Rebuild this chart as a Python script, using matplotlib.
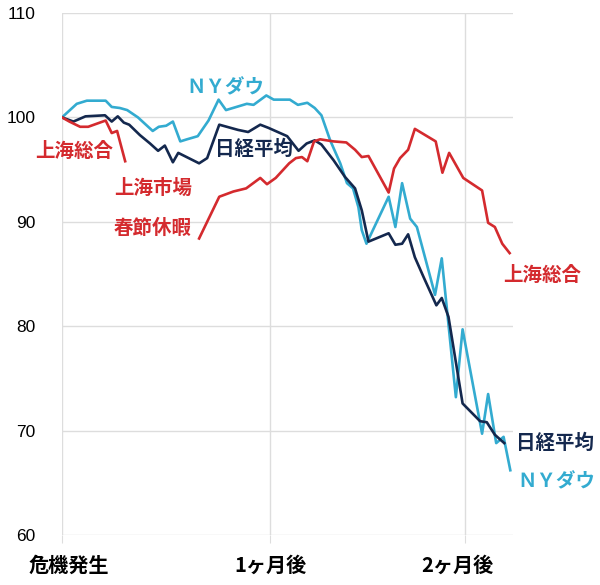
import matplotlib
matplotlib.use("Agg")
import matplotlib.pyplot as plt
import matplotlib.transforms as mtransforms

plt.rcParams['font.family'] = ['Noto Sans CJK JP', 'DejaVu Sans']

# days since the crisis started, and index levels (start = 100)
ny_days = [0, 2.2, 3.7, 6.5, 7.4, 8.6, 9.7, 11.3, 13.5, 14.4, 15.5, 16.5, 17.6, 18.6,
           20.2, 21.8, 23.3, 24.4, 27.5, 28.5, 30.4, 31.5, 33.9, 35.1, 36.5, 37.6,
           38.6, 39.9, 41.4, 42.4, 43.3, 44.1, 44.6, 45.3, 48.6, 49.6, 50.6, 51.8,
           52.8, 55.5, 56.5, 58.6, 59.6, 62.5, 63.4, 64.6, 65.7, 66.7]
ny_vals = [100.0, 101.3, 101.6, 101.6, 101.0, 100.9, 100.7, 100.0, 98.7, 99.1, 99.2,
           99.6, 97.7, 97.9, 98.2, 99.7, 101.7, 100.7, 101.3, 101.2, 102.1, 101.7,
           101.7, 101.2, 101.4, 100.9, 100.2, 97.8, 95.6, 93.7, 93.2, 91.4, 89.2,
           87.9, 92.4, 89.5, 93.7, 90.3, 89.5, 83.0, 86.5, 73.2, 79.7, 69.7, 73.5,
           68.8, 69.4, 66.2]

nk_days = [0, 1.7, 3.5, 6.4, 7.4, 8.3, 9.2, 10.0, 11.6, 13.1, 14.3, 15.3, 16.5, 17.3,
           20.4, 21.6, 23.4, 26.2, 27.7, 29.5, 30.7, 33.5, 35.2, 36.4, 37.6, 38.6,
           40.4, 42.1, 43.6, 44.6, 45.6, 48.6, 49.6, 50.6, 51.5, 52.5, 53.8, 55.7,
           56.5, 57.5, 59.6, 62.2, 63.2, 64.4, 65.8]
nk_vals = [100.0, 99.6, 100.1, 100.2, 99.6, 100.1, 99.5, 99.3, 98.3, 97.5, 96.8, 97.3,
           95.7, 96.6, 95.6, 96.1, 99.3, 98.8, 98.6, 99.3, 99.0, 98.2, 96.8, 97.5,
           97.8, 97.4, 95.9, 94.3, 93.2, 91.1, 88.1, 88.9, 87.8, 87.9, 88.8, 86.6,
           84.7, 82.0, 82.7, 80.9, 72.6, 70.9, 70.8, 69.6, 68.8]

# Shanghai: before and after the Spring Festival holiday
sh1_days = [0, 1.1, 2.7, 3.9, 6.5, 7.4, 8.2, 9.4]
sh1_vals = [100.0, 99.6, 99.1, 99.1, 99.7, 98.5, 98.7, 95.8]
sh2_days = [20.4, 23.4, 25.5, 27.4, 29.5, 30.5, 31.8, 33.8, 34.8, 35.7, 36.5, 37.5,
            38.4, 40.4, 42.3, 43.6, 44.6, 45.6, 48.6, 49.4, 50.3, 51.5, 52.5, 55.6,
            56.6, 57.6, 59.7, 62.5, 63.4, 64.4, 65.5, 66.6]
sh2_vals = [88.4, 92.4, 92.9, 93.2, 94.2, 93.6, 94.2, 95.6, 96.1, 96.2, 95.8, 97.7,
            97.9, 97.7, 97.6, 96.9, 96.2, 96.3, 92.8, 95.1, 96.1, 96.9, 98.9, 97.7,
            94.7, 96.6, 94.2, 93.0, 89.9, 89.5, 87.9, 87.0]

x_ticks = [0, 31, 60]
x_labels = ['危機発生', '1ヶ月後', '2ヶ月後']
y_ticks = [60, 70, 80, 90, 100, 110]

red = '#d42a2e'
navy = '#14284e'
blue = '#33abd0'

fig = plt.figure(figsize=(6, 5.85), dpi=100)
ax = fig.add_axes([0.1033, 0.0855, 0.7517, 0.8923])

ax.plot(ny_days, ny_vals, color=blue, lw=1.9)
ax.plot(nk_days, nk_vals, color=navy, lw=1.9)
ax.plot(sh1_days, sh1_vals, color=red, lw=1.9)
ax.plot(sh2_days, sh2_vals, color=red, lw=1.9)

ax.set_xlim(0, 67.1)
ax.set_ylim(60, 110)
ax.set_xticks(x_ticks)
ax.set_xticklabels(x_labels, fontsize=14.5, fontweight='bold')
ax.set_yticks(y_ticks)
ax.set_yticklabels([str(v) for v in y_ticks], fontsize=12.5, family='Liberation Sans')
ax.tick_params(axis='y', length=0, pad=19)
ax.tick_params(axis='x', length=6, color='#dddddd', pad=8)
ax.grid(True, color='#dddddd', lw=1)
ax.set_axisbelow(True)
for s in ax.spines.values():
    s.set_visible(False)

# nudge the outer x labels like in the original
ticks = ax.xaxis.get_major_ticks()
shift_r = mtransforms.ScaledTranslation(7 / 100, 0, fig.dpi_scale_trans)
shift_l = mtransforms.ScaledTranslation(-8 / 100, 0, fig.dpi_scale_trans)
ticks[0].label1.set_transform(ticks[0].label1.get_transform() + shift_r)
ticks[2].label1.set_transform(ticks[2].label1.get_transform() + shift_l)

kw = dict(fontsize=14, fontweight='bold', ha='center', va='center', clip_on=False)
ax.text(24.3, 102.8, 'ＮＹダウ', color=blue, **kw)
ax.text(1.8, 96.7, '上海総合', color=red, **kw)
ax.text(13.5, 93.2, '上海市場', color=red, **kw)
ax.text(13.5, 89.4, '春節休暇', color=red, **kw)
ax.text(28.6, 96.9, '日経平均', color=navy, **kw)
ax.text(71.4, 84.9, '上海総合', color=red, **kw)
ax.text(73.3, 68.8, '日経平均', color=navy, **kw)
ax.text(73.6, 65.1, 'ＮＹダウ', color=blue, **kw)

fig.savefig('out.png', dpi=100)
